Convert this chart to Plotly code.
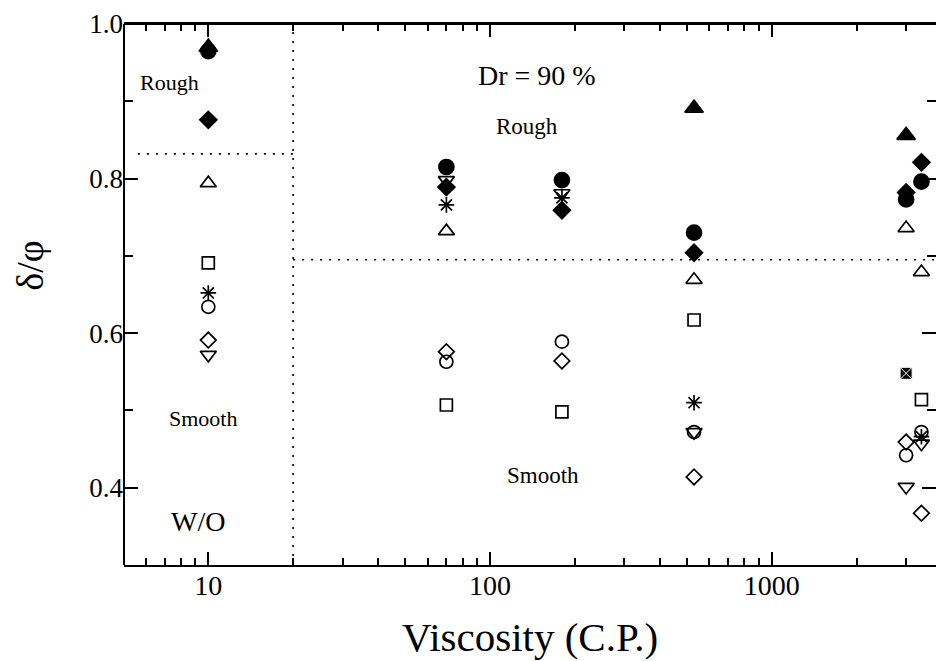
import numpy as np
import plotly.graph_objects as go

# ---- data (viscosity in C.P., delta/phi) ----
filled_circle_x = [10, 70, 180, 530, 3000, 3400]
filled_circle_y = [0.965, 0.815, 0.798, 0.730, 0.773, 0.796]

filled_diamond_x = [10, 70, 180, 530, 3000, 3400]
filled_diamond_y = [0.876, 0.789, 0.759, 0.704, 0.782, 0.821]

filled_triangle_x = [10, 530, 3000]
filled_triangle_y = [0.970, 0.891, 0.856]

open_triangle_x = [10, 70, 530, 3000, 3400]
open_triangle_y = [0.794, 0.732, 0.669, 0.736, 0.679]

open_square_x = [10, 70, 180, 530, 3400]
open_square_y = [0.691, 0.507, 0.498, 0.617, 0.514]

asterisk_x = [10, 70, 180, 530, 3400]
asterisk_y = [0.652, 0.766, 0.775, 0.510, 0.466]

open_circle_x = [10, 70, 180, 530, 3000, 3400]
open_circle_y = [0.634, 0.563, 0.589, 0.472, 0.442, 0.472]

open_diamond_x = [10, 70, 180, 530, 3000, 3400]
open_diamond_y = [0.591, 0.576, 0.564, 0.414, 0.459, 0.367]

open_tridown_x = [10, 70, 180, 530, 3000, 3400]
open_tridown_y = [0.572, 0.798, 0.781, 0.472, 0.401, 0.457]

hatched_square_x = [3000]
hatched_square_y = [0.548]

# boundaries between rough / smooth regions
WO_SPLIT_X = 20
WO_LIMIT_Y = 0.832
FLUID_LIMIT_Y = 0.695

X_RANGE = [5.02, 3830]
Y_RANGE = [0.30, 1.0]
X_MAJOR = [10, 100, 1000]
X_MAJOR_TEXT = ["10", "100", "1000"]
X_MINOR = [6, 7, 8, 9, 20, 30, 40, 50, 60, 70, 80, 90,
           200, 300, 400, 500, 600, 700, 800, 900, 2000, 3000]

FONT = "Liberation Serif"

fig = go.Figure()

series = [
    (open_square_x, open_square_y, "square-open", 12, "black"),
    (open_circle_x, open_circle_y, "circle-open", 13, "black"),
    (open_diamond_x, open_diamond_y, "diamond-open", 12, "black"),
    (open_tridown_x, open_tridown_y, "triangle-down-open", 14, "black"),
    (open_triangle_x, open_triangle_y, "triangle-up-open", 14, "black"),
    (asterisk_x, asterisk_y, "asterisk-open", 13, "black"),
    (filled_triangle_x, filled_triangle_y, "triangle-up", 16, "black"),
    (filled_diamond_x, filled_diamond_y, "diamond", 13, "black"),
    (filled_circle_x, filled_circle_y, "circle", 15, "black"),
]
for xs, ys, sym, size, col in series:
    fig.add_trace(go.Scatter(
        x=xs, y=ys, mode="markers",
        marker=dict(symbol=sym, size=size, color=col,
                    line=dict(color="black", width=1.7)),
        showlegend=False, hoverinfo="skip"))

fig.add_trace(go.Scatter(
    x=hatched_square_x, y=hatched_square_y, mode="markers",
    marker=dict(symbol="square-x", size=12, color="black",
                line=dict(color="white", width=1)),
    showlegend=False, hoverinfo="skip"))

dot = dict(color="black", width=1.6, dash="2px,7px")
fig.add_shape(type="line", xref="x", yref="paper", x0=WO_SPLIT_X, x1=WO_SPLIT_X,
              y0=0, y1=1, line=dot)
fig.add_shape(type="line", xref="x", yref="y", x0=X_RANGE[0] * 1.12, x1=WO_SPLIT_X,
              y0=WO_LIMIT_Y, y1=WO_LIMIT_Y, line=dot)
fig.add_shape(type="line", xref="x", yref="y", x0=WO_SPLIT_X, x1=X_RANGE[1],
              y0=FLUID_LIMIT_Y, y1=FLUID_LIMIT_Y, line=dot)
# left and top spines
fig.add_shape(type="line", xref="paper", yref="paper", x0=0, x1=0, y0=0, y1=1,
              line=dict(color="black", width=2))
fig.add_shape(type="line", xref="paper", yref="paper", x0=0, x1=1, y0=1, y1=1,
              line=dict(color="black", width=2))

annots = [
    ("Rough", 7.3, 0.924, 22),
    ("Smooth", 9.6, 0.489, 22),
    ("W/O", 9.2, 0.356, 28),
    ("Dr = 90 %", 147, 0.934, 28),
    ("Rough", 135, 0.868, 23),
    ("Smooth", 154, 0.416, 23),
]
for txt, ax_, ay_, fs in annots:
    fig.add_annotation(x=np.log10(ax_), y=ay_, xref="x", yref="y", text=txt,
                       showarrow=False, font=dict(family=FONT, size=fs, color="black"))

fig.add_annotation(x=0.5, y=-0.133, xref="paper", yref="paper",
                   xanchor="center", yanchor="middle",
                   text="Viscosity (C.P.)", showarrow=False,
                   font=dict(family=FONT, size=41, color="black"))
fig.add_annotation(x=-0.116, y=0.553, xref="paper", yref="paper",
                   xanchor="center", yanchor="middle",
                   text="δ/φ", textangle=-90, showarrow=False,
                   font=dict(family=FONT, size=38, color="black"))

fig.update_xaxes(
    type="log", range=[np.log10(X_RANGE[0]), np.log10(X_RANGE[1])],
    tickmode="array", tickvals=X_MAJOR, ticktext=X_MAJOR_TEXT,
    ticks="inside", ticklen=13, tickwidth=2, tickcolor="black",
    minor=dict(tickmode="array", tickvals=X_MINOR, ticks="inside", ticklen=7,
               tickwidth=2, tickcolor="black", showgrid=False),
    showline=True, linecolor="black", linewidth=2, mirror="ticks",
    showgrid=False, zeroline=False, ticklabelstandoff=-6,
    tickfont=dict(family=FONT, size=28, color="black"),
)
fig.update_yaxes(
    range=Y_RANGE, tickmode="linear", tick0=0, dtick=0.2, tickformat=".1f",
    ticks="inside", ticklen=14, tickwidth=2, tickcolor="black",
    minor=dict(dtick=0.1, tick0=0, ticks="inside", ticklen=9, tickwidth=2,
               tickcolor="black", showgrid=False),
    showline=False, mirror="ticks",
    showgrid=False, zeroline=False,
    tickfont=dict(family=FONT, size=27, color="black"),
)

fig.update_layout(
    width=936, height=661,
    margin=dict(l=124, r=0, t=24, b=96),
    plot_bgcolor="white", paper_bgcolor="white",
    showlegend=False,
)

fig.write_html("out.html")
